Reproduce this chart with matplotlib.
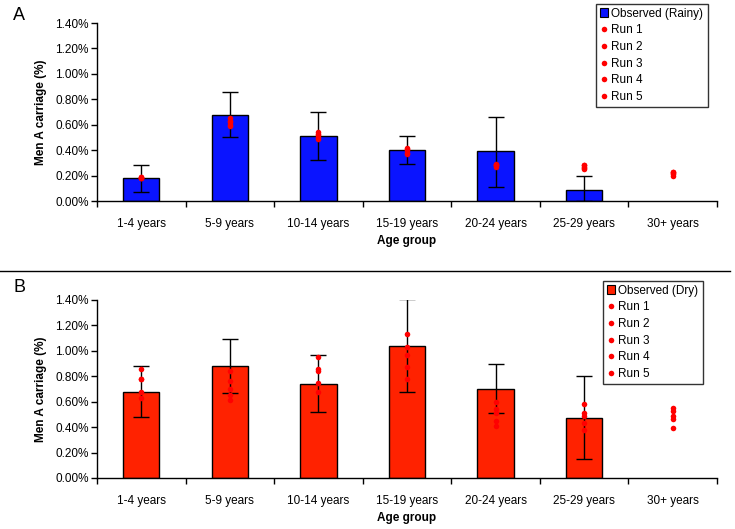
import matplotlib
matplotlib.use("Agg")
import matplotlib.pyplot as plt
from matplotlib.ticker import FuncFormatter
from matplotlib.lines import Line2D
from matplotlib.patches import Patch
import numpy as np

plt.rcParams['font.family'] = ['Liberation Sans', 'DejaVu Sans']

groups = ["1-4 years", "5-9 years", "10-14 years", "15-19 years",
          "20-24 years", "25-29 years", "30+ years"]

# observed carriage (%), error bar ends (%)
rainy_obs = [0.18, 0.68, 0.51, 0.40, 0.39, 0.09, np.nan]
rainy_hi = [0.28, 0.86, 0.70, 0.51, 0.66, 0.20, np.nan]
rainy_lo = [0.07, 0.50, 0.32, 0.29, 0.11, 0.00, np.nan]

dry_obs = [0.68, 0.88, 0.74, 1.04, 0.70, 0.47, np.nan]
dry_hi = [0.88, 1.09, 0.97, 1.41, 0.90, 0.80, np.nan]
dry_lo = [0.48, 0.67, 0.52, 0.68, 0.51, 0.15, np.nan]

# model runs, one list per run, values per age group
rainy_runs = [
    [0.19, 0.65, 0.54, 0.42, 0.28, 0.28, 0.23],
    [0.18, 0.62, 0.52, 0.40, 0.28, 0.27, 0.22],
    [0.18, 0.60, 0.50, 0.38, 0.29, 0.26, 0.21],
    [0.19, 0.63, 0.53, 0.41, 0.27, 0.28, 0.23],
    [0.18, 0.59, 0.49, 0.37, 0.28, 0.25, 0.20],
]
dry_runs = [
    [0.86, 0.84, 0.95, 1.13, 0.60, 0.58, 0.55],
    [0.78, 0.76, 0.86, 1.03, 0.54, 0.51, 0.525],
    [0.68, 0.70, 0.84, 0.97, 0.51, 0.485, 0.49],
    [0.63, 0.655, 0.75, 0.87, 0.45, 0.43, 0.465],
    [0.78, 0.61, 0.68, 0.78, 0.41, 0.375, 0.39],
]

W, H = 735, 529
FS = 8.5
fig = plt.figure(figsize=(W / 100, H / 100), dpi=100)


def panel(rect, obs, hi, lo, runs, color, obs_label, letter, letter_y, leg_rect):
    left, top, right, bottom = rect
    ax = fig.add_axes([left / W, 1 - bottom / H, (right - left) / W, (bottom - top) / H])
    x = np.arange(len(groups))
    obs = np.array(obs)
    yerr = [obs - np.array(lo), np.array(hi) - obs]
    ax.bar(x, obs, width=0.41, color=color, edgecolor='black', linewidth=1.0, zorder=2)
    ax.errorbar(x, obs, yerr=yerr, fmt='none', ecolor='black', elinewidth=1.0,
                capsize=5.5, capthick=1.0, zorder=3)
    for r in runs:
        ax.plot(x, r, 'o', color='#ff0000', markersize=4, markeredgewidth=0, zorder=4)
    ax.set_xlim(-0.5, len(groups) - 0.5)
    ax.set_ylim(0, 1.4)
    ax.set_yticks(np.arange(0, 1.41, 0.2))
    ax.yaxis.set_major_formatter(FuncFormatter(lambda v, p: "%.2f%%" % v))
    ax.set_xticks(x)
    ax.set_xticklabels(groups)
    ax.set_xticks(np.arange(-0.5, len(groups), 1.0), minor=True)
    ax.tick_params(axis='x', which='major', length=0, pad=12, labelsize=FS)
    ax.tick_params(axis='x', which='minor', length=4, width=1, direction='out')
    ax.tick_params(axis='y', length=4, width=1, direction='out', labelsize=FS, pad=2)
    for s in ['top', 'right']:
        ax.spines[s].set_visible(False)
    for s in ['left', 'bottom']:
        ax.spines[s].set_linewidth(1.0)
    ax.set_ylabel("Men A carriage (%)", fontsize=FS, fontweight='bold', labelpad=6)
    ax.set_xlabel("Age group", fontsize=FS, fontweight='bold', labelpad=4)
    fig.text(13 / W, 1 - letter_y / H, letter, fontsize=13, va='center', ha='left')

    lx0, ly0, lx1, ly1 = leg_rect
    handles = [Patch(facecolor=color, edgecolor='black', linewidth=0.8, label=obs_label)]
    for i in range(len(runs)):
        handles.append(Line2D([], [], marker='o', linestyle='none', color='#ff0000',
                              markersize=4, markeredgewidth=0, label="Run %d" % (i + 1)))
    leg = ax.legend(handles=handles, loc='upper left',
                    bbox_to_anchor=(lx0 / W, 1 - ly1 / H, (lx1 - lx0) / W, (ly1 - ly0) / H),
                    bbox_transform=fig.transFigure, mode='expand', fontsize=FS,
                    frameon=True, fancybox=False, borderpad=0.3, labelspacing=0.4,
                    handlelength=0.7, handleheight=0.7, handletextpad=0.3,
                    borderaxespad=0)
    leg.get_frame().set_edgecolor('black')
    leg.get_frame().set_linewidth(1.0)
    return ax


panel((97, 23, 717, 201), rainy_obs, rainy_hi, rainy_lo, rainy_runs, '#0a14ff',
      "Observed (Rainy)", "A", 16, (596, 4, 708, 106))
panel((97, 300, 717, 478), dry_obs, dry_hi, dry_lo, dry_runs, '#ff2200',
      "Observed (Dry)", "B", 287, (603, 281, 703, 378))

fig.add_artist(Line2D([0, 730 / W], [1 - 271 / H, 1 - 271 / H], color='black',
                      linewidth=1.0, transform=fig.transFigure))

fig.savefig("out.png", dpi=100)
